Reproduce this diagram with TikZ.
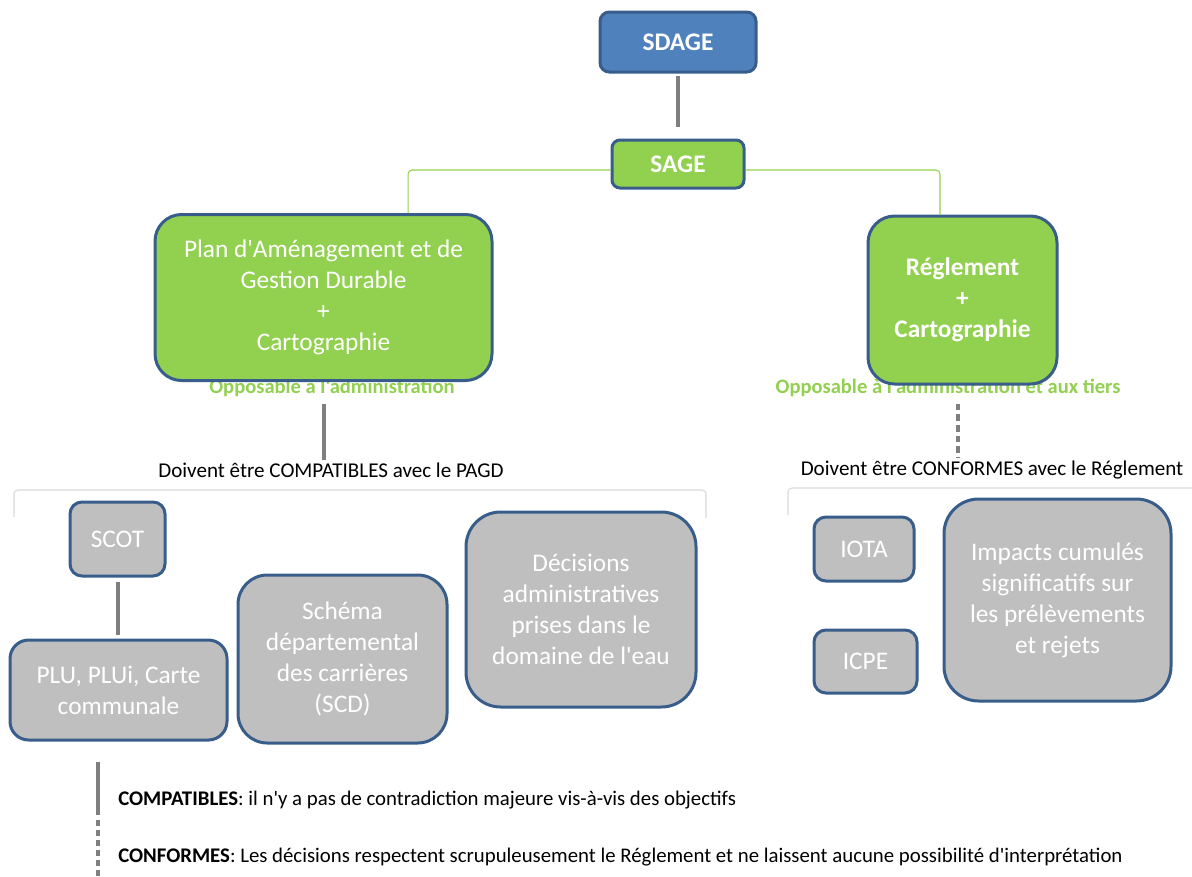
\documentclass[tikz,border=0pt]{standalone}
\usepackage{fontspec}
\setmainfont{Carlito}[Ligatures=TeXOff]
\usetikzlibrary{positioning, calc}
\definecolor{sdblue}{HTML}{4F81BD}
\definecolor{edgeblue}{HTML}{385D8A}
\definecolor{sagegreen}{HTML}{92D050}
\definecolor{boxgrey}{HTML}{BFBFBF}
\definecolor{linegrey}{HTML}{7F7F7F}
\definecolor{bracegrey}{HTML}{D9D9D9}
\newcommand*{\boxfont}{\fontsize{19}{23.25}\selectfont}

\tikzset{
 docbox/.style={draw=edgeblue, line width=2.25pt, text=white, align=center, font=\boxfont, inner sep=0pt},
 greenbox/.style={docbox, fill=sagegreen},
 greybox/.style={docbox, fill=boxgrey},
 link/.style={draw=linegrey, line width=3pt},
 tree/.style={draw=sagegreen, line width=0.8pt, rounded corners=3pt},
 brace/.style={draw=bracegrey, line width=0.8pt, rounded corners=3pt},
 oppos/.style={text=sagegreen, font=\fontsize{15.4}{18}\selectfont\bfseries, inner sep=2pt},
 relation/.style={font=\fontsize{15.8}{19}\selectfont, inner sep=2pt},
 legend/.style={font=\fontsize{15.6}{19}\selectfont, anchor=west, inner sep=0pt},
}

\begin{document}
\begin{tikzpicture}[x=0.75pt, y=-0.75pt]
 \useasboundingbox (0,0) rectangle (1192,876);
 % SDAGE and SAGE
 \node[docbox, fill=sdblue, rounded corners=7pt, minimum width=117pt, minimum height=45pt, font=\boxfont\bfseries] (sdage) at (678,42) {SDAGE};
 \node[greenbox, rounded corners=6pt, minimum width=99pt, minimum height=36pt, font=\boxfont\bfseries] (sage) at (678,164) {SAGE};
 \draw[link, shorten <=2pt, shorten >=9pt] (sdage) -- (sage);

 % the two documents of the SAGE
 \node[oppos] (opp1) at (332,388) {Opposable à l'administration};
 \node[oppos] (opp2) at (948,388) {Opposable à l'administration et aux tiers};
 \node[greenbox, rounded corners=20pt, minimum width=252.75pt, minimum height=124.5pt] (pagd) at (323.5,297.5)
  {Plan d'Aménagement et de\\Gestion Durable\\+\\Cartographie};
 \node[greenbox, rounded corners=20pt, minimum width=141.75pt, minimum height=126pt, font=\boxfont\bfseries] (regl) at (962.5,300)
  {Réglement\\+\\Cartographie};
 \draw[tree] ([yshift=-4.5pt]sage.west) -| ([xshift=63.4pt]pagd.north);
 \draw[tree] ([yshift=-4.5pt]sage.east) -| ([xshift=-16.9pt]regl.north);

 % relations
 \node[relation] (comp) at (331,470) {Doivent être COMPATIBLES avec le PAGD};
 \node[relation] (conf) at (992,470) {Doivent être CONFORMES avec le Réglement};
 \draw[link, shorten <=3pt] (pagd.south |- opp1.south) -- (pagd.south |- comp.north);
 \draw[link, dash pattern=on 5pt off 3pt, shorten <=3pt] ([xshift=-3.4pt]regl.south |- opp2.south) -- ([xshift=-3.4pt]regl.south |- conf.north);
 \draw[brace] (14,517) -- (14,490) -- (706,490) -- (706,518);
 \draw[brace] (788,515) -- (788,488) -- (1192,488);

 % compatible documents
 \node[greybox, rounded corners=9pt, minimum width=71.25pt, minimum height=55.5pt] (scot) at (117.5,539) {SCOT};
 \node[greybox, rounded corners=14pt, minimum width=162.75pt, minimum height=75pt] (plu) at (118.5,690) {PLU, PLUi, Carte\\communale};
 \node[greybox, rounded corners=22pt, minimum width=156.75pt, minimum height=126pt] (scd) at (342.5,659)
  {Schéma\\départemental\\des carrières\\(SCD)};
 \node[greybox, rounded corners=26pt, minimum width=172.5pt, minimum height=146.25pt] (deci) at (581,609.5)
  {Décisions\\administratives\\prises dans le\\domaine de l'eau};
 \draw[link, shorten <=3pt, shorten >=3pt] (scot) -- (scot |- plu.north);

 % conform documents
 \node[greybox, rounded corners=9pt, minimum width=75pt, minimum height=48pt] (iota) at (864,549) {IOTA};
 \node[greybox, rounded corners=9pt, minimum width=77.25pt, minimum height=47.25pt] (icpe) at (865.5,661.5) {ICPE};
 \node[greybox, rounded corners=26pt, minimum width=170.25pt, minimum height=151.5pt] (impact) at (1057.5,600)
  {Impacts cumulés\\significatifs sur\\les prélèvements\\et rejets};

 % legend
 \coordinate (keytop) at (98,762);
 \coordinate (keymid) at (98,815);
 \coordinate (keydash) at (98,820);
 \coordinate (keyend) at (98,876);
 \draw[link] (keytop) -- (keymid);
 \draw[link, dash pattern=on 4.5pt off 3pt] (keydash) -- (keyend);
 \node[legend] (compdef) at (118,800) {\textbf{COMPATIBLES}: il n'y a pas de contradiction majeure vis-à-vis des objectifs};
 \node[legend] (confdef) at (118,857) {\textbf{CONFORMES}: Les décisions respectent scrupuleusement le Réglement et ne laissent aucune possibilité d'interprétation};
\end{tikzpicture}
\end{document}
